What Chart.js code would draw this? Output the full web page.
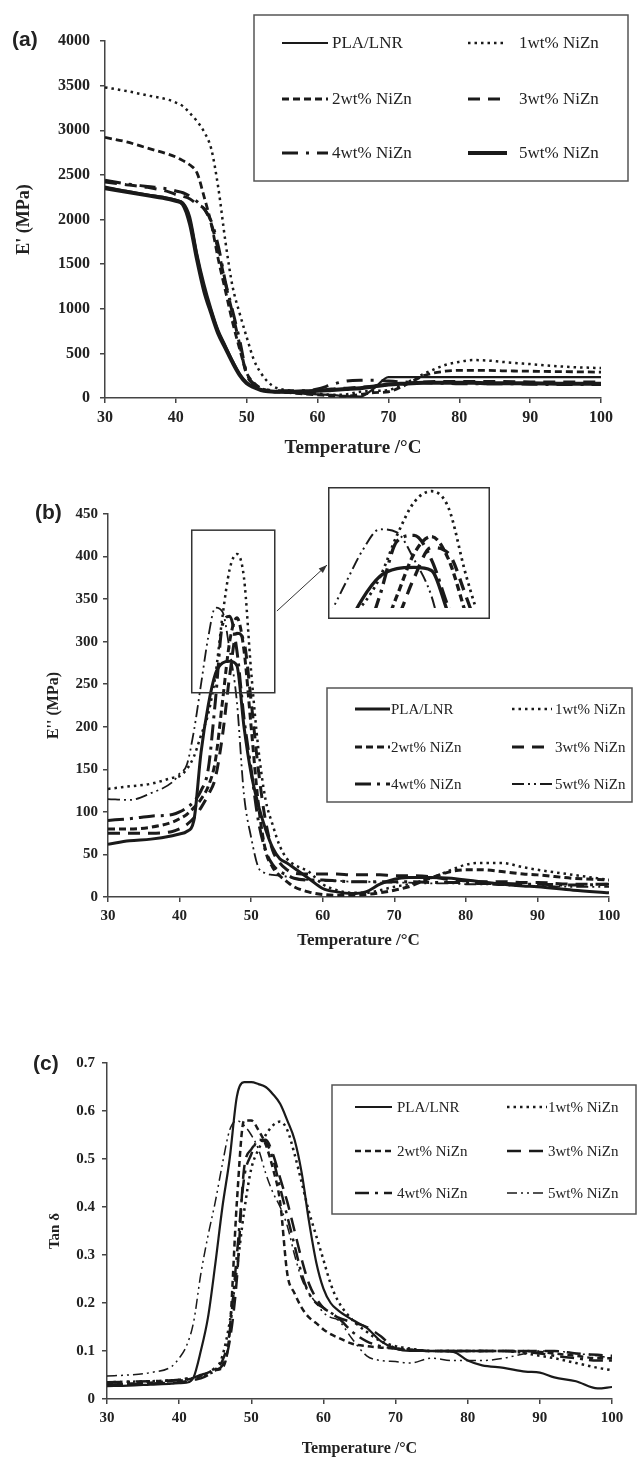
<!DOCTYPE html>
<html><head><meta charset="utf-8">
<script src="https://cdn.jsdelivr.net/npm/chart.js@4/dist/chart.umd.min.js"></script>
<style>
html,body{margin:0;padding:0;background:#fff;}
body{width:638px;height:1458px;position:relative;overflow:hidden;}
canvas{position:absolute;left:0;}
.plabel{position:absolute;font:bold 21px "Liberation Sans",Arial,sans-serif;color:#222;line-height:22px;}
</style></head><body>
<canvas id="ca" width="638" height="470" style="top:0px"></canvas>
<canvas id="cb" width="638" height="490" style="top:470px"></canvas>
<canvas id="cbz" width="162" height="132" style="left:328px;top:487px"></canvas>
<canvas id="cc" width="638" height="498" style="top:960px"></canvas>
<div class="plabel" style="left:12px;top:28px">(a)</div>
<div class="plabel" style="left:35px;top:501px">(b)</div>
<div class="plabel" style="left:33px;top:1052px">(c)</div>
<script>
// ---------- DATA ----------
const seriesLabels = ['PLA/LNR','1wt% NiZn','2wt% NiZn','3wt% NiZn','4wt% NiZn','5wt% NiZn'];
const xTicks = [30,40,50,60,70,80,90,100];
const xTickLabels = ['30','40','50','60','70','80','90','100'];

// (a) storage modulus E' (MPa)
const tempA = [30,33,36,39,40,41,42,43,44,45,46,47,48,49,50,51,52,53,54,56,58,60,62,64,66,68,70,72,75,78,80,82,84,86,90,95,100];
const plaA = [2370,2320,2280,2240,2220,2190,2030,1620,1280,1000,760,590,420,270,170,125,95,80,70,60,50,40,35,20,15,110,235,235,235,235,235,235,235,235,235,235,235];
const wt1A = [3480,3440,3390,3340,3310,3270,3190,3100,2980,2790,2350,1750,1250,950,680,430,280,180,120,85,65,50,35,40,70,80,90,150,270,370,405,425,420,405,380,350,335];
const wt2A = [2920,2870,2800,2730,2700,2660,2610,2520,2250,1950,1550,1200,850,550,280,170,110,85,70,60,45,35,25,20,40,60,70,130,250,300,310,310,310,305,300,295,290];
const wt3A = [2420,2390,2360,2310,2280,2260,2230,2170,2120,1950,1650,1280,950,600,260,150,100,80,70,70,70,80,100,110,120,130,150,160,180,185,185,185,185,185,180,180,180];
const wt4A = [2440,2400,2370,2340,2320,2300,2260,2200,2120,1980,1700,1300,980,650,280,160,110,90,80,80,80,100,150,190,200,200,190,180,170,165,160,160,160,160,155,150,150];
const wt5A = [2350,2310,2270,2230,2210,2170,1950,1550,1200,950,720,560,400,260,165,120,90,75,70,70,75,80,90,100,110,130,150,160,170,170,170,170,165,165,165,160,160];
const yTicksA = [0,500,1000,1500,2000,2500,3000,3500,4000];
const yTickLabelsA = ['0','500','1000','1500','2000','2500','3000','3500','4000'];

// (b) loss modulus E'' (MPa)
const tempB = [30,33,36,39,40,41,42,43,44,45,46,47,48,49,50,51,52,53,54,55,56,58,60,62,64,66,68,70,72,75,78,80,82,85,88,90,95,100];
const plaB = [62,66,68,72,74,77,90,170,225,262,275,277,272,200,145,108,80,58,45,40,34,22,10,6,4,6,15,21,23,23,22,20,18,15,13,12,8,5];
const wt1B = [127,130,133,140,142,150,165,190,215,260,330,385,403,375,265,175,115,85,60,45,38,30,15,8,5,5,8,12,15,22,32,38,40,40,35,32,26,20];
const wt2B = [80,80,82,88,92,97,105,115,130,160,230,300,328,290,200,110,55,35,25,18,12,6,3,2,2,3,5,8,12,22,30,32,32,30,27,26,22,20];
const wt3B = [75,75,75,77,80,85,93,105,120,140,190,260,310,300,230,150,90,55,40,32,28,27,27,27,26,26,26,25,25,24,20,19,18,18,17,17,15,15];
const wt4B = [90,92,95,97,100,105,112,125,150,230,320,330,290,210,150,90,55,38,30,26,22,20,20,19,18,18,18,18,18,17,17,17,16,16,15,15,14,15];
const wt5B = [115,114,122,135,145,155,195,250,305,340,335,290,230,120,70,35,28,26,25,24,22,20,19,19,18,18,17,17,17,16,16,15,15,14,13,13,12,12];
const yTicksB = [0,50,100,150,200,250,300,350,400,450];
const yTickLabelsB = ['0','50','100','150','200','250','300','350','400','450'];
const insetRangeB = {x:[41.7,53.3], y:[240,431]};
const zoomRangeB = {x:[42,51.4], y:[210,410]};
const arrowB = {from:[53.6,336], to:[60.6,390]};

// (c) tan delta
const tempC = [30,33,36,39,40,41,42,43,44,45,46,47,48,49,50,51,52,53,54,55,56,57,58,59,60,61,62,64,66,68,70,72,75,78,80,82,85,88,90,92,95,98,100];
const plaC = [0.027,0.028,0.03,0.032,0.033,0.034,0.045,0.1,0.17,0.28,0.4,0.5,0.63,0.66,0.66,0.656,0.65,0.635,0.615,0.58,0.54,0.47,0.37,0.285,0.23,0.2,0.185,0.165,0.148,0.12,0.105,0.1,0.1,0.098,0.08,0.07,0.065,0.057,0.055,0.045,0.037,0.022,0.025];
const wt1C = [0.035,0.036,0.037,0.039,0.04,0.042,0.044,0.047,0.052,0.06,0.09,0.16,0.27,0.39,0.48,0.52,0.55,0.57,0.578,0.56,0.51,0.45,0.39,0.34,0.29,0.24,0.205,0.165,0.14,0.12,0.11,0.105,0.1,0.1,0.1,0.1,0.1,0.095,0.09,0.085,0.075,0.065,0.06];
const wt2C = [0.03,0.032,0.034,0.037,0.038,0.04,0.043,0.048,0.055,0.06,0.065,0.14,0.41,0.58,0.58,0.56,0.53,0.48,0.41,0.26,0.22,0.19,0.17,0.158,0.145,0.135,0.128,0.115,0.11,0.107,0.105,0.103,0.1,0.1,0.1,0.1,0.1,0.1,0.098,0.095,0.09,0.085,0.085];
const wt3C = [0.03,0.031,0.032,0.034,0.035,0.037,0.04,0.043,0.05,0.06,0.07,0.12,0.25,0.48,0.52,0.535,0.54,0.51,0.46,0.41,0.35,0.29,0.24,0.21,0.19,0.18,0.17,0.16,0.15,0.13,0.105,0.102,0.1,0.1,0.1,0.1,0.1,0.1,0.1,0.1,0.095,0.092,0.09];
const wt4C = [0.035,0.036,0.037,0.039,0.04,0.042,0.045,0.05,0.055,0.065,0.08,0.14,0.3,0.46,0.51,0.54,0.535,0.5,0.44,0.38,0.32,0.26,0.22,0.2,0.19,0.18,0.17,0.14,0.12,0.11,0.105,0.103,0.1,0.1,0.1,0.1,0.1,0.098,0.095,0.09,0.085,0.08,0.08];
const wt5C = [0.048,0.05,0.055,0.068,0.085,0.11,0.16,0.26,0.34,0.41,0.49,0.56,0.58,0.57,0.55,0.52,0.47,0.43,0.4,0.36,0.3,0.25,0.22,0.2,0.18,0.17,0.165,0.125,0.09,0.08,0.078,0.075,0.085,0.08,0.08,0.08,0.085,0.095,0.1,0.1,0.095,0.09,0.085];
const yTicksC = [0,0.1,0.2,0.3,0.4,0.5,0.6,0.7];
const yTickLabelsC = ['0','0.1','0.2','0.3','0.4','0.5','0.6','0.7'];

// ---------- STYLES ----------
const SERIF = "'Liberation Serif','Times New Roman',serif";
const INK = '#1a1a1a';
const stylesA = [
  {dash:[], w:2.2},
  {dash:[2.5,4], w:2.5},
  {dash:[7,4], w:2.8},
  {dash:[12,8], w:3},
  {dash:[16,8,3,8], w:3},
  {dash:[], w:4}
];
const stylesB = [
  {dash:[], w:3},
  {dash:[2.5,4], w:2.5},
  {dash:[7,4], w:3},
  {dash:[12,8], w:3},
  {dash:[16,6,3,6], w:3},
  {dash:[12,4,2,4,2,4], w:1.8}
];
const stylesC = [
  {dash:[], w:2.2},
  {dash:[2.5,4], w:2.5},
  {dash:[6,4], w:2.5},
  {dash:[14,8], w:2.5},
  {dash:[14,6,3,6], w:2.5},
  {dash:[10,4,2,4,2,4], w:1.5}
];

function buildDatasets(temps, seriesList, styles, scaleW) {
  scaleW = scaleW || 1;
  return seriesList.map((vals, i) => ({
    label: seriesLabels[i],
    data: temps.map((t, k) => ({x: t, y: vals[k]})),
    borderColor: INK,
    backgroundColor: INK,
    borderWidth: styles[i].w * scaleW,
    borderDash: styles[i].dash,
    borderCapStyle: 'butt',
    pointRadius: 0,
    fill: false,
    cubicInterpolationMode: 'monotone'
  }));
}

// ---------- PLUGINS ----------
const boxLegend = {
  id: 'boxLegend',
  afterDraw(chart, args, opts) {
    if (!opts || !opts.box) return;
    const ctx = chart.ctx;
    ctx.save();
    const b = opts.box;
    ctx.setLineDash([]);
    ctx.strokeStyle = '#555';
    ctx.lineWidth = 1.5;
    ctx.strokeRect(b[0], b[1], b[2], b[3]);
    ctx.font = opts.font;
    ctx.fillStyle = '#222';
    ctx.textBaseline = 'middle';
    ctx.textAlign = 'left';
    chart.data.datasets.forEach((ds, i) => {
      const col = i % 2, row = Math.floor(i / 2);
      const y = opts.rows[row];
      const c = opts.cols[col];
      ctx.beginPath();
      ctx.setLineDash(ds.borderDash || []);
      ctx.lineWidth = ds.borderWidth;
      ctx.strokeStyle = ds.borderColor;
      ctx.lineCap = 'butt';
      ctx.moveTo(c[0], y);
      ctx.lineTo(c[1], y);
      ctx.stroke();
      ctx.setLineDash([]);
      ctx.fillText(ds.label, c[2], y + 1);
    });
    ctx.restore();
  }
};

const insetMark = {
  id: 'insetMark',
  afterDatasetsDraw(chart, args, opts) {
    if (!opts || !opts.rect) return;
    const xs = chart.scales.x, ys = chart.scales.y, ctx = chart.ctx;
    const x0 = xs.getPixelForValue(opts.rect.x[0]), x1 = xs.getPixelForValue(opts.rect.x[1]);
    const y0 = ys.getPixelForValue(opts.rect.y[1]), y1 = ys.getPixelForValue(opts.rect.y[0]);
    ctx.save();
    ctx.setLineDash([]);
    ctx.strokeStyle = '#333';
    ctx.lineWidth = 1.5;
    ctx.strokeRect(x0, y0, x1 - x0, y1 - y0);
    const ax0 = xs.getPixelForValue(opts.arrow.from[0]), ay0 = ys.getPixelForValue(opts.arrow.from[1]);
    const ax1 = xs.getPixelForValue(opts.arrow.to[0]), ay1 = ys.getPixelForValue(opts.arrow.to[1]);
    ctx.lineWidth = 1;
    ctx.beginPath(); ctx.moveTo(ax0, ay0); ctx.lineTo(ax1, ay1); ctx.stroke();
    const ang = Math.atan2(ay1 - ay0, ax1 - ax0), L = 9, A = 0.35;
    ctx.fillStyle = '#333';
    ctx.beginPath();
    ctx.moveTo(ax1, ay1);
    ctx.lineTo(ax1 - L * Math.cos(ang - A), ay1 - L * Math.sin(ang - A));
    ctx.lineTo(ax1 - L * Math.cos(ang + A), ay1 - L * Math.sin(ang + A));
    ctx.closePath(); ctx.fill();
    ctx.restore();
  }
};

const frame = {
  id: 'frame',
  afterDraw(chart, args, opts) {
    if (!opts || !opts.on) return;
    const ctx = chart.ctx;
    ctx.save(); ctx.setLineDash([]);
    ctx.strokeStyle = '#333'; ctx.lineWidth = 1.5;
    ctx.strokeRect(0.75, 0.75, chart.width - 1.5, chart.height - 1.5);
    ctx.restore();
  }
};

function makePanel(id, temps, series, styles, cfg) {
  return new Chart(document.getElementById(id), {
    type: 'line',
    data: { datasets: buildDatasets(temps, series, styles) },
    plugins: [boxLegend, insetMark],
    options: {
      responsive: false, animation: false, devicePixelRatio: 1,
      layout: { padding: cfg.padding },
      plugins: {
        legend: { display: false }, tooltip: { enabled: false },
        boxLegend: cfg.legend,
        insetMark: cfg.inset || {}
      },
      scales: {
        x: {
          type: 'linear', min: 30, max: 100,
          afterBuildTicks: s => { s.ticks = xTicks.map(v => ({value: v})); },
          afterFit: s => { s.height = cfg.xHeight; },
          ticks: { autoSkip: false, maxRotation: 0, padding: cfg.xTickPad, color: '#222',
                   font: { family: SERIF, weight: 'bold', size: cfg.tickSize },
                   callback: (v, i) => xTickLabels[i] },
          grid: { display: true, drawOnChartArea: false, drawTicks: true, tickLength: 5, color: '#444', lineWidth: 1.5 },
          border: { display: true, color: '#444', width: 1.5 },
          title: { display: true, text: 'Temperature /°C', color: '#222',
                   font: { family: SERIF, weight: 'bold', size: cfg.xTitleSize },
                   padding: { top: 0, bottom: cfg.xTitlePad } }
        },
        y: {
          type: 'linear', min: cfg.yTicks[0], max: cfg.yTicks[cfg.yTicks.length - 1],
          afterBuildTicks: s => { s.ticks = cfg.yTicks.map(v => ({value: v})); },
          afterFit: s => { s.width = cfg.yWidth; },
          ticks: { autoSkip: false, padding: cfg.yTickPad, color: '#222',
                   font: { family: SERIF, weight: 'bold', size: cfg.tickSize },
                   callback: (v, i) => cfg.yLabels[i] },
          grid: { display: true, drawOnChartArea: false, drawTicks: true, tickLength: 5, color: '#444', lineWidth: 1.5 },
          border: { display: true, color: '#444', width: 1.5 },
          title: { display: true, text: cfg.yTitle, color: '#222',
                   font: { family: SERIF, weight: 'bold', size: cfg.yTitleSize },
                   padding: { top: cfg.yTitlePad, bottom: 0 } }
        }
      }
    }
  });
}

// Panel (a)
makePanel('ca', tempA, [plaA, wt1A, wt2A, wt3A, wt4A, wt5A], stylesA, {
  padding: { left: 0, right: 37, top: 41, bottom: 10 },
  xHeight: 62, yWidth: 105, tickSize: 16, xTickPad: 5, yTickPad: 10,
  xTitleSize: 19, xTitlePad: 1, yTitle: "E' (MPa)", yTitleSize: 18, yTitlePad: 14,
  yTicks: yTicksA, yLabels: yTickLabelsA,
  legend: { box: [254, 15, 374, 166], rows: [43, 99, 153], cols: [[282, 328, 332], [468, 507, 519]],
            font: "17px " + SERIF }
});

// Panel (b)
makePanel('cb', tempB, [plaB, wt1B, wt2B, wt3B, wt4B, wt5B], stylesB, {
  padding: { left: 0, right: 29, top: 44, bottom: 3 },
  xHeight: 60, yWidth: 108, tickSize: 15, xTickPad: 5, yTickPad: 5,
  xTitleSize: 17, xTitlePad: 6, yTitle: "E'' (MPa)", yTitleSize: 16, yTitlePad: 44,
  yTicks: yTicksB, yLabels: yTickLabelsB,
  legend: { box: [327, 218, 305, 114], rows: [239, 277, 314], cols: [[355, 390, 391], [512, 552, 555]],
            font: "15px " + SERIF },
  inset: { rect: insetRangeB, arrow: arrowB }
});

// Panel (b) magnified inset
new Chart(document.getElementById('cbz'), {
  type: 'line',
  data: { datasets: buildDatasets(tempB, [plaB, wt1B, wt2B, wt3B, wt4B, wt5B], stylesB, 1.1) },
  plugins: [frame],
  options: {
    responsive: false, animation: false, devicePixelRatio: 1,
    layout: { padding: { left: 0, right: 0, top: 0, bottom: 11 } },
    plugins: { legend: { display: false }, tooltip: { enabled: false }, frame: { on: true } },
    scales: {
      x: { type: 'linear', display: false, min: zoomRangeB.x[0], max: zoomRangeB.x[1] },
      y: { type: 'linear', display: false, min: zoomRangeB.y[0], max: zoomRangeB.y[1] }
    }
  }
});

// Panel (c)
makePanel('cc', tempC, [plaC, wt1C, wt2C, wt3C, wt4C, wt5C], stylesC, {
  padding: { left: 0, right: 26, top: 103, bottom: 0 },
  xHeight: 59, yWidth: 107, tickSize: 15, xTickPad: 5, yTickPad: 7,
  xTitleSize: 16, xTitlePad: 0, yTitle: "Tan δ", yTitleSize: 15, yTitlePad: 46,
  yTicks: yTicksC, yLabels: yTickLabelsC,
  legend: { box: [332, 125, 304, 129], rows: [147, 191, 233], cols: [[355, 392, 397], [507, 547, 548]],
            font: "15px " + SERIF }
});
</script>
</body></html>
